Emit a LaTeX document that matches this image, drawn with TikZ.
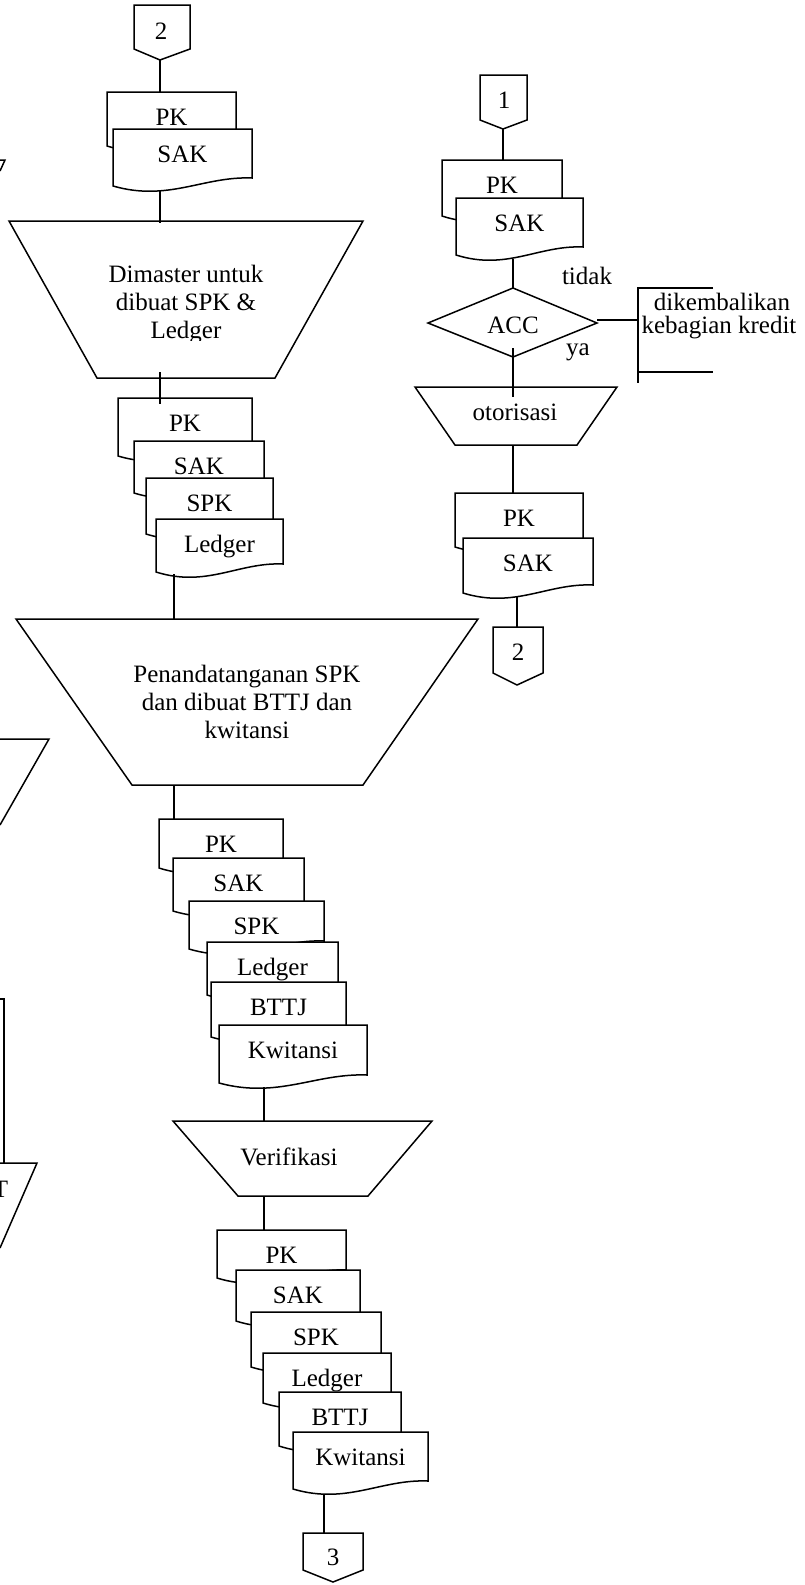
\documentclass[tikz,border=0pt]{standalone}
\usepackage{fontspec}
\setmainfont{Liberation Serif}
\usetikzlibrary{calc}
\tikzset{
  shp/.style={draw=black, line width=1.5pt, fill=white, line join=miter},
  ln/.style={draw=black, line width=1.5pt},
  lbl/.style={font=\fontsize{25}{28}\selectfont, inner sep=0pt, anchor=base},
}
% document symbol: name, left, top, right, bottom(left) y, text
\newcommand\mkdoc[6]{%
  \path[shp] (#2,#3) -- (#4,#3) -- (#4,{#5-8})
    .. controls ({#2+0.65*(#4-#2)},{#5-10}) and ({#2+0.4*(#4-#2)},{#5+16}) .. (#2,#5) -- cycle;
  \node[lbl] (#1) at ({(#2+#4)/2},{#3+33}) {#6};%
}
\begin{document}
\begin{tikzpicture}[x=1pt,y=-1pt]
\useasboundingbox (0,0) rectangle (804,1585);

% ---------- partial shapes at the left edge ----------
\draw[ln] (0,160) -- (5,160) -- (0,171);
\draw[ln] (0,739) -- (49,739) -- (0,825);
\draw[ln] (0,999) -- (4,999) -- (4,1163);
\draw[ln] (0,1163) -- (37,1163) -- (0,1248);
\node[lbl] (frag) at (0.5,1197) {T};

% ---------- left / middle column ----------
\path[shp] (134,5) -- (190,5) -- (190,49) -- (160,60) -- (134,49) -- cycle;
\node[lbl] (off2a) at (161,39) {2};
\mkdoc{pka}{107}{92}{236}{146}{PK}
\mkdoc{saka}{113}{129}{252}{186}{SAK}

\path[shp] (9,221) -- (363,221) -- (275,378) -- (97,378) -- cycle;
\node[lbl] (dm1) at (186,282) {Dimaster untuk};
\node[lbl] (dm2) at (186,310) {dibuat SPK \&};
\begin{scope}
\clip (0,0) rectangle (804,340);
\node[lbl] (dm3) at (186,338) {Ledger};
\end{scope}

\mkdoc{pkb}{118}{398}{252}{456}{PK}
\mkdoc{sakb}{134}{441}{264}{493}{SAK}
\mkdoc{spkb}{146}{478}{273}{534}{SPK}
\mkdoc{ledb}{156}{519}{283}{572}{Ledger}

\path[shp] (16,619) -- (478,619) -- (363,785) -- (132,785) -- cycle;
\node[lbl] (pt1) at (247,682) {Penandatanganan SPK};
\node[lbl] (pt2) at (247,710) {dan dibuat BTTJ dan};
\node[lbl] (pt3) at (247,738) {kwitansi};

\mkdoc{pkc}{159}{819}{283}{868}{PK}
\mkdoc{sakc}{173}{858}{304}{911}{SAK}
\mkdoc{spkc}{189}{901}{324}{949}{SPK}
\mkdoc{ledc}{207}{942}{338}{995}{Ledger}
\mkdoc{bttjc}{211}{982}{346}{1037}{BTTJ}
\mkdoc{kwic}{219}{1025}{367}{1083}{Kwitansi}

\path[shp] (173,1121) -- (432,1121) -- (368,1196) -- (238,1196) -- cycle;
\node[lbl] (ver) at (289,1165) {Verifikasi};

\mkdoc{pkd}{217}{1230}{346}{1278}{PK}
\mkdoc{sakd}{236}{1270}{360}{1321}{SAK}
\mkdoc{spkd}{251}{1312}{381}{1367}{SPK}
\mkdoc{ledd}{263}{1353}{391}{1403}{Ledger}
\mkdoc{bttjd}{279}{1392}{401}{1446}{BTTJ}
\mkdoc{kwid}{293}{1432}{428}{1489}{Kwitansi}

\path[shp] (303,1533) -- (363,1533) -- (363,1570) -- (333,1582) -- (303,1570) -- cycle;
\node[lbl] (off3) at (333,1565) {3};

% ---------- right column ----------
\path[shp] (480,75) -- (527,75) -- (527,120) -- (503,129) -- (480,120) -- cycle;
\node[lbl] (off1) at (504,108) {1};
\mkdoc{pke}{442}{160}{562}{216}{PK}
\mkdoc{sake}{456}{198}{583}{255}{SAK}

\path[shp] (513,288) -- (597,323) -- (513,357) -- (428,323) -- cycle;
\node[lbl] (acc) at (513,333) {ACC};
\node[lbl] (tidak) at (587,284) {tidak};
\node[lbl] (ya) at (578,355) {ya};

\node[lbl] (kem1) at (722,310) {dikembalikan};
\node[lbl] (kem2) at (719,333) {kebagian kredit};

\path[shp] (415,387) -- (617,387) -- (577,445) -- (455,445) -- cycle;
\node[lbl] (oto) at (515,420) {otorisasi};

\mkdoc{pkf}{455}{493}{583}{547}{PK}
\mkdoc{sakf}{463}{538}{593}{593}{SAK}

\path[shp] (493,627) -- (543,627) -- (543,673) -- (517,685) -- (493,673) -- cycle;
\node[lbl] (off2b) at (518,660) {2};

% ---------- connectors ----------
\coordinate (a1) at (160,60);   \coordinate (a2) at (160,92);
\coordinate (b1) at (160,190);  \coordinate (b2) at (160,223);
\coordinate (c1) at (160,372);  \coordinate (c2) at (160,404);
\coordinate (d1) at (174,574);  \coordinate (d2) at (174,619);
\coordinate (e1) at (174,785);  \coordinate (e2) at (174,819);
\coordinate (f1) at (264,1087); \coordinate (f2) at (264,1121);
\coordinate (g1) at (264,1196); \coordinate (g2) at (264,1230);
\coordinate (h1) at (324,1494); \coordinate (h2) at (324,1533);
\coordinate (i1) at (503,129);  \coordinate (i2) at (503,160);
\coordinate (j1) at (513,259);  \coordinate (j2) at (513,288);
\coordinate (k1) at (597,320);  \coordinate (k2) at (638,320);
\coordinate (m1) at (513,348);  \coordinate (m2) at (513,397);
\coordinate (n1) at (513,445);  \coordinate (n2) at (513,493);
\coordinate (o1) at (517,597);  \coordinate (o2) at (517,627);
\coordinate (bt) at (713,288); \coordinate (btc) at (638,288);
\coordinate (bbc) at (638,383); \coordinate (bm) at (638,372); \coordinate (bme) at (713,372);

\foreach \p/\q in {a1/a2,b1/b2,c1/c2,d1/d2,e1/e2,f1/f2,g1/g2,h1/h2,i1/i2,j1/j2,k1/k2,m1/m2,n1/n2,o1/o2}
  \draw[ln] (\p) -- (\q);
\draw[ln] (bt) -- (btc) -- (bbc);
\draw[ln] (bm) -- (bme);
\end{tikzpicture}
\end{document}
